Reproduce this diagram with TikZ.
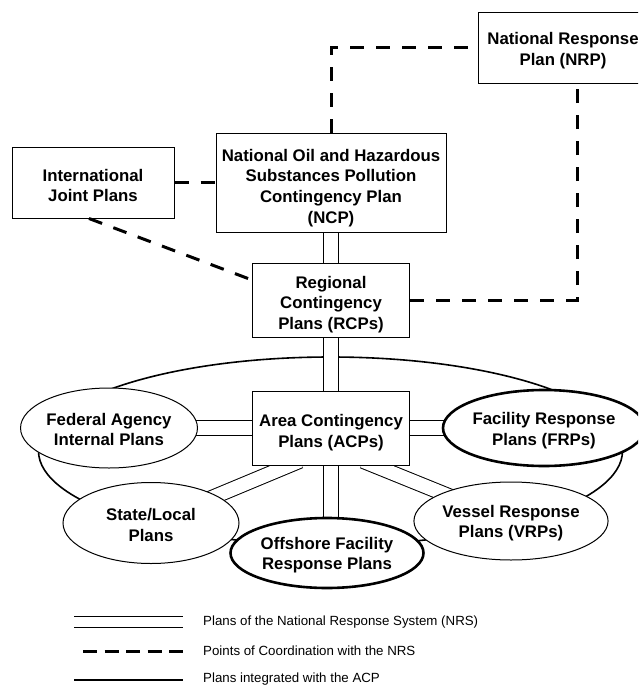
\documentclass[tikz,border=0pt]{standalone}
\usepackage{fontspec}
\setmainfont{Liberation Sans}
\usetikzlibrary{shapes.geometric,calc}
\pgfdeclarelayer{bg}
\pgfsetlayers{bg,main}
\newcommand\dn[2][4pt]{\raisebox{-#1}[\height][\depth]{#2}}
\begin{document}
\begin{tikzpicture}[x=1pt,y=-1pt,
  lbl/.style={align=center, font=\bfseries\fontsize{16.8}{20.7}\selectfont},
  box/.style={lbl, draw, line width=1pt, fill=white, inner sep=0pt},
  oval/.style={lbl, ellipse, draw, line width=1pt, fill=white, inner sep=0pt},
  keyoval/.style={oval, line width=2.6pt},
  nrs/.style={double distance=13.5pt, line width=1pt},
  coord/.style={line width=3pt, dash pattern=on 14pt off 12pt},
  acpline/.style={line width=1.6pt},
  legtext/.style={anchor=west, inner sep=0pt, font=\fontsize{13.3}{15}\selectfont}]
\useasboundingbox (0,0) rectangle (638,688);
\clip (0,0) rectangle (638,688);

% nodes
\node[box, minimum width=170, minimum height=71] (NRP) at (563,47.5) {\dn[3.5pt]{National Response}\\\dn[3.5pt]{Plan (NRP)}};
\node[box, minimum width=230, minimum height=99] (NCP) at (331,182.5) {\dn[5.5pt]{National Oil and Hazardous}\\\dn[5.5pt]{Substances Pollution}\\\dn[5.5pt]{Contingency Plan}\\\dn[5.5pt]{(NCP)}};
\node[box, minimum width=162, minimum height=71] (INT) at (93,182.5) {\dn[3pt]{International}\\\dn[3pt]{Joint Plans}};
\node[box, minimum width=157, minimum height=74] (RCP) at (331,300) {\dn[4.5pt]{Regional}\\\dn[4.5pt]{Contingency}\\\dn[4.5pt]{Plans (RCPs)}};
\node[box, minimum width=157, minimum height=74] (ACP) at (331,428) {\dn[4.5pt]{Area Contingency}\\\dn[4.5pt]{Plans (ACPs)}};
\node[oval, minimum width=176, minimum height=80] (FED) at (109,428) {\dn[1.5pt]{Federal Agency}\\\dn[1.5pt]{Internal Plans}};
\node[keyoval, minimum width=170, minimum height=76] (FRP) at (544,428) {\dn[3pt]{Facility Response}\\\dn[3pt]{Plans (FRPs)}};
\node[oval, minimum width=176, minimum height=81] (SL) at (151,523) {\dn[2pt]{State/Local}\\\dn[2pt]{Plans}};
\node[oval, minimum width=175, minimum height=78] (VRP) at (511,521) {\dn[2pt]{Vessel Response}\\\dn[2pt]{Plans (VRPs)}};
\node[keyoval, minimum width=193, minimum height=70] (OFF) at (327,553) {\dn[2pt]{Offshore Facility}\\\dn[2pt]{Response Plans}};

\begin{pgfonlayer}{bg}
% ring of plans integrated with the ACP
\draw[acpline] (330.5,451) ellipse [x radius=292, y radius=94];
% plans of the NRS
\draw[nrs] (NCP.center) -- (RCP.center);
\draw[nrs] (RCP.center) -- (ACP.center);
\draw[nrs] (ACP.center) -- (FED.center);
\draw[nrs] (ACP.center) -- (FRP.center);
\draw[nrs] ($([xshift=-42pt]ACP.south)!-12pt!(SL.center)$) -- (SL.center);
\draw[nrs] ($([xshift=43pt]ACP.south)!-12pt!(VRP.center)$) -- (VRP.center);
\draw[nrs] (ACP.center) -- (ACP.center |- OFF.center);
\end{pgfonlayer}

% points of coordination
\draw[coord] (INT.east) -- (NCP.west);
\draw[coord] ([xshift=-4pt]INT.south) -- ([yshift=20pt]RCP.west);
\draw[coord] (NCP.north) |- (NRP.west);
\draw[coord] (RCP.east) -| ([xshift=14pt]NRP.south);

% legend
\coordinate (la1) at (74,622);  \coordinate (lb1) at (183,622);
\coordinate (la2) at (83,651);  \coordinate (lb2) at (183,651);
\coordinate (la3) at (74,680);  \coordinate (lb3) at (183,680);
\draw[nrs, double distance=10.6pt] (la1) -- (lb1);
\draw[line width=3pt, dash pattern=on 14pt off 7.5pt] (la2) -- (lb2);
\draw[acpline] (la3) -- (lb3);
\node[legtext] (t1) at (203,622) {Plans of the National Response System (NRS)};
\node[legtext] (t2) at (203,651) {Points of Coordination with the NRS};
\node[legtext] (t3) at (203,679) {Plans integrated with the ACP};
\end{tikzpicture}
\end{document}
